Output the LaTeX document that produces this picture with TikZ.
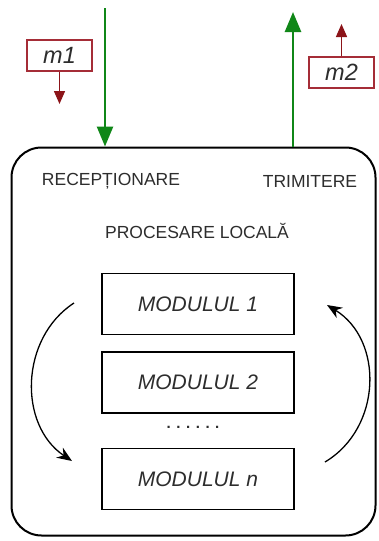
\documentclass[tikz,border=0pt]{standalone}
\usepackage{fontspec}
\setmainfont{Liberation Sans}
\usetikzlibrary{arrows.meta}
\definecolor{flowgreen}{RGB}{16,135,24}
\definecolor{msgred}{RGB}{140,20,25}
\definecolor{msgframe}{RGB}{165,45,55}
\definecolor{txtgray}{RGB}{45,45,45}
\tikzset{
  label text/.style={text=txtgray, font=\fontsize{17.5}{20}\selectfont, inner sep=0pt},
  modbox/.style={draw=black, line width=1.1pt, minimum width=192pt, minimum height=61pt,
    inner sep=0pt, text=txtgray, font=\fontsize{21}{24}\selectfont\itshape},
  msgbox/.style={draw=msgframe, line width=1.2pt, fill=white, minimum width=65pt,
    minimum height=31pt, inner sep=0pt, text=txtgray, font=\fontsize{23.5}{26}\selectfont\itshape},
  flow/.style={draw=flowgreen, line width=2.6pt, -{Triangle[width=16pt,length=20pt]}, color=flowgreen},
  msgflow/.style={draw=msgred, line width=1.4pt, -{Triangle[width=11pt,length=13pt]}, color=msgred},
  cycle arrow/.style={draw=black, line width=1.3pt, -{Stealth[width=12pt,length=15pt]}}
}
\begin{document}
\begin{tikzpicture}[x=1pt,y=-1pt]
\useasboundingbox[fill=white] (0,0) rectangle (379,541);

% outer node frame
\node[draw=black, line width=2pt, rounded corners=30pt, minimum width=364pt,
      minimum height=388pt, inner sep=0pt] (frame) at (193.5,341.5) {};

% section labels
\node[label text] (recv) at (111,181) {RECEPȚIONARE};
\node[label text] (send) at (310,181) {TRIMITERE};
\node[label text] (proc) at (197,231) {PROCESARE LOCALĂ};

% processing modules
\node[modbox] (mod1) at (198,304) {MODULUL 1};
\node[modbox] (mod2) at (198,382.5) {MODULUL 2};
\node[text=txtgray, font=\fontsize{15}{17}\selectfont\bfseries, inner sep=0pt] (dots) at (193,427) {. . . . . .};
\node[modbox] (modn) at (198,479) {MODULUL n};

% incoming and outgoing flows
\coordinate (inTop) at (105,8);
\coordinate (outTop) at (293,12);
\draw[flow] (inTop) -- (inTop |- frame.north);
\draw[flow] (outTop |- frame.north) -- (outTop);

% messages
\node[msgbox] (m1) at (59.5,55.5) {m1};
\node[msgbox] (m2) at (341.5,72.5) {m2};
\coordinate (m1tip) at (59.5,104);
\coordinate (m2tip) at (341.5,24);
\draw[msgflow] (m1.south) -- (m1tip);
\draw[msgflow] (m2.north) -- (m2tip);

% cyclic scheduling of the modules
\coordinate (lstart) at (74,303);
\coordinate (lend) at (72,461);
\coordinate (rstart) at (325,462);
\coordinate (rend) at (327,305);
\draw[cycle arrow] (lstart) .. controls (20,338) and (18,425) .. (lend);
\draw[cycle arrow] (rstart) .. controls (382,428) and (384,340) .. (rend);
\end{tikzpicture}
\end{document}
